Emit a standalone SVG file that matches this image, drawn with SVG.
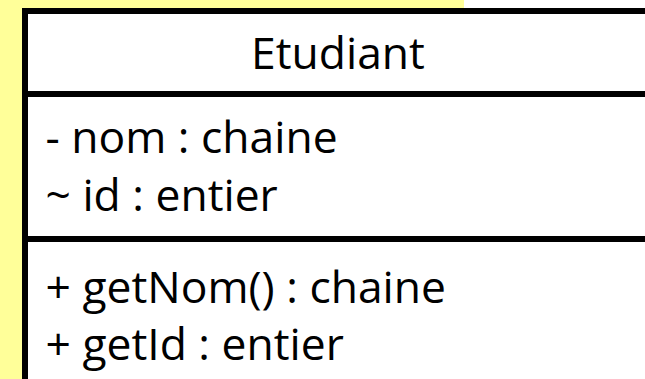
<svg xmlns="http://www.w3.org/2000/svg" width="645" height="379" viewBox="0 0 645 379">
<style>
.t{font-family:"Open Sans","Noto Sans","DejaVu Sans",sans-serif;font-size:44.4px;fill:#000}
.b{stroke:#000;stroke-width:6;fill:none}
.box{stroke:#000;stroke-width:6;fill:#fff}
</style>
<rect x="0" y="0" width="645" height="379" fill="#fff"/>
<rect id="bg" x="0" y="0" width="464" height="379" fill="#FFFF99"/>
<g id="etudiant">
<rect class="box" x="25" y="11" width="700" height="500"/>
<line class="b" x1="25" y1="94" x2="700" y2="94"/>
<line class="b" x1="25" y1="239" x2="700" y2="239"/>
<text class="t" x="338" y="69.3" text-anchor="middle">Etudiant</text>
<text class="t" x="45.5" y="153.3">- nom : chaine</text>
<text class="t" x="45.5" y="210.5">~ id : entier</text>
<text class="t" x="45.5" y="303">+ getNom() : chaine</text>
<text class="t" x="45.5" y="360">+ getId : entier</text>
</g>
<g id="connectors"/>
</svg>
